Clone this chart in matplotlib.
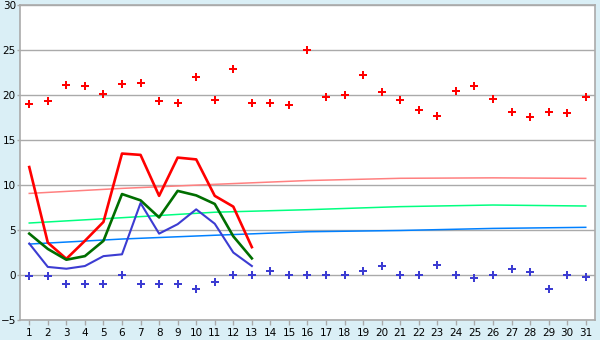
import numpy as np
import matplotlib
matplotlib.use('Agg')
import matplotlib.pyplot as plt

# days of the month
days = list(range(1, 32))

# scattered daily points
red_points = [19.0, 19.3, 21.1, 21.0, 20.1, 21.2, 21.3, 19.3, 19.1, 22.0,
              19.4, 22.9, 19.1, 19.1, 18.9, 25.0, 19.8, 20.0, 22.2, 20.3,
              19.4, 18.3, 17.7, 20.4, 21.0, 19.6, 18.1, 17.6, 18.1, 18.0, 19.8]
blue_points = [-0.1, -0.1, -1.0, -1.0, -1.0, 0.0, -1.0, -1.0, -1.0, -1.5,
               -0.8, 0.0, 0.0, 0.4, 0.0, 0.0, 0.0, 0.0, 0.4, 1.0,
               0.0, 0.0, 1.1, 0.0, -0.35, 0.0, 0.65, 0.3, -1.6, 0.0, -0.25]

# lines for the first 13 days
line_days = list(range(1, 14))
red_line = [12.0, 3.6, 1.8, 3.8, 5.9, 13.5, 13.35, 8.8, 13.05, 12.85, 8.8, 7.6, 3.1]
green_line = [4.6, 2.9, 1.7, 2.1, 3.8, 9.0, 8.3, 6.4, 9.35, 8.85, 7.9, 4.3, 1.85]
blue_line = [3.5, 0.9, 0.7, 1.0, 2.1, 2.3, 8.0, 4.6, 5.65, 7.3, 5.7, 2.5, 1.0]

# trend lines sampled along the month
trend_days = [1, 6, 11, 16, 21, 26, 31]
red_trend = [9.07, 9.63, 10.08, 10.5, 10.75, 10.8, 10.74]
green_trend = [5.78, 6.37, 6.98, 7.26, 7.6, 7.78, 7.67]
blue_trend = [3.44, 4.0, 4.42, 4.81, 4.95, 5.18, 5.3]

bg = '#daeff6'
grid_col = '#aaaaaa'

fig = plt.figure(figsize=(6, 3.4), dpi=100, facecolor=bg)
ax = fig.add_axes([0.0333, 0.0588, 0.9584, 0.9262])
ax.set_facecolor('white')

ax.set_xlim(0.5, 31.5)
ax.set_ylim(-5, 30)
ax.set_yticks(range(-5, 31, 5))
ax.set_xticks(days)
ax.yaxis.grid(True, color=grid_col, linewidth=1.0)
ax.set_axisbelow(True)

for s in ax.spines.values():
    s.set_color(grid_col)
    s.set_linewidth(1.2)

ax.tick_params(axis='both', colors=grid_col, labelcolor='black', labelsize=7.5,
               width=1.0)
ax.tick_params(axis='y', length=2, pad=1)
ax.tick_params(axis='x', length=3.5, pad=2)

# trend lines
ax.plot(trend_days, red_trend, color='#ff8080', lw=1.1)
ax.plot(trend_days, green_trend, color='#00ff80', lw=1.1)
ax.plot(trend_days, blue_trend, color='#0080ff', lw=1.1)

# daily lines
ax.plot(line_days, red_line, color='#ff0000', lw=1.9)
ax.plot(line_days, green_line, color='#006e00', lw=1.9)
ax.plot(line_days, blue_line, color='#3c3cd2', lw=1.5)

# markers
ax.plot(days, red_points, linestyle='none', marker='P', ms=5.5, color='#ff0000', mew=0)
ax.plot(days, blue_points, linestyle='none', marker='P', ms=5.5, color='#3c3cd2', mew=0)

plt.savefig('out.png', dpi=100, facecolor=bg)
